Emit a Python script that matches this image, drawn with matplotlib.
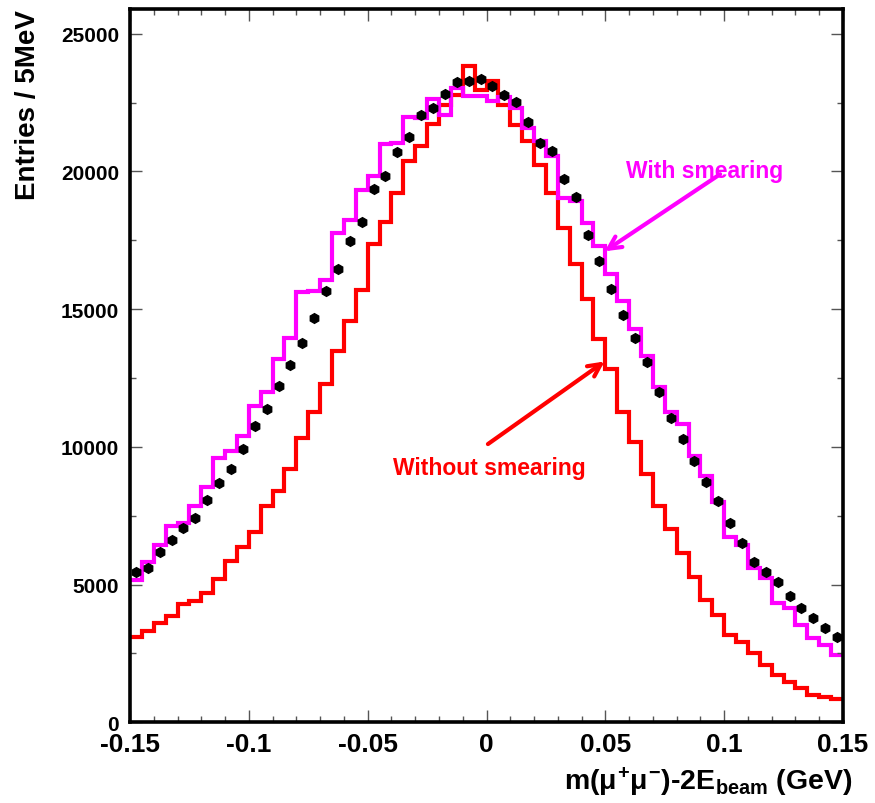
import numpy as np
import matplotlib
matplotlib.use('Agg')
import matplotlib.pyplot as plt
from matplotlib.ticker import MultipleLocator

plt.rcParams['font.family'] = ['Liberation Sans', 'DejaVu Sans']
plt.rcParams['font.weight'] = 'bold'
plt.rcParams['mathtext.fontset'] = 'custom'
plt.rcParams['mathtext.rm'] = 'Liberation Sans:bold'
plt.rcParams['mathtext.it'] = 'Liberation Sans:bold'
plt.rcParams['mathtext.bf'] = 'Liberation Sans:bold'

# 60 bins of 5 MeV between -0.15 and 0.15 GeV
x_lo, x_hi, n_bins = -0.15, 0.15, 60

without_smearing = [
    3100, 3320, 3600, 3860, 4300, 4410, 4700, 5210, 5870, 6380,
    6920, 7840, 8380, 9180, 10310, 11260, 12280, 13480, 14580, 15710,
    17380, 18180, 19200, 20370, 20920, 21720, 22410, 22780, 23830, 22960,
    23290, 22410, 21680, 21100, 20230, 19200, 17930, 16650, 15380, 13920,
    12830, 11260, 10170, 9000, 7840, 7000, 6160, 5280, 4450, 3900,
    3170, 2920, 2510, 2080, 1710, 1460, 1240, 980, 910, 840]

with_smearing = [
    5170, 5830, 6450, 7110, 7220, 7840, 8530, 9580, 9840, 10390,
    11480, 11990, 13190, 13960, 15630, 15650, 16040, 17750, 18220, 19310,
    19820, 20990, 21030, 21980, 21940, 22630, 22050, 23030, 22740, 22740,
    22560, 22700, 22300, 21570, 21100, 20550, 19020, 18910, 18110, 17310,
    16290, 15310, 14290, 13300, 12170, 11260, 10820, 9660, 8930, 7980,
    6740, 6450, 5610, 5250, 4340, 4150, 3530, 3060, 2810, 2440]

data = [
    5470, 5610, 6190, 6600, 7070, 7430, 8070, 8670, 9180, 9910,
    10750, 11370, 12210, 12970, 13780, 14690, 15670, 16450, 17460, 18150,
    19350, 19820, 20700, 21250, 22050, 22300, 22810, 23250, 23290, 23360,
    23100, 22780, 22520, 21810, 21030, 20740, 19720, 19060, 17710, 16730,
    15740, 14800, 13960, 13080, 11990, 11040, 10280, 9480, 8710, 8020,
    7220, 6520, 5830, 5470, 5100, 4590, 4150, 3790, 3430, 3100]

edges = np.linspace(x_lo, x_hi, n_bins + 1)
centers = 0.5 * (edges[:-1] + edges[1:])

fig = plt.figure(figsize=(8.75, 8.04), dpi=100)
ax = fig.add_axes([0.1486, 0.1005, 0.8148, 0.8871])

ax.stairs(without_smearing, edges, color='#ff0000', lw=3.0, baseline=None)
ax.stairs(with_smearing, edges, color='#ff00ff', lw=3.0, baseline=None)
ax.plot(centers, data, 'h', color='black', ms=7, zorder=3)

ax.set_xlim(x_lo, x_hi)
ax.set_ylim(0, 25900)

ax.xaxis.set_minor_locator(MultipleLocator(0.01))
ax.yaxis.set_major_locator(MultipleLocator(5000))
ax.yaxis.set_minor_locator(MultipleLocator(2500))
ax.set_xticks([-0.15, -0.1, -0.05, 0, 0.05, 0.1, 0.15])
ax.set_xticklabels(['-0.15', '-0.1', '-0.05', '0', '0.05', '0.1', '0.15'])

ax.tick_params(which='both', direction='in', top=True, right=True,
               width=1, color='#555555')
ax.tick_params(which='major', length=8.5)
ax.tick_params(which='minor', length=4.5)
ax.tick_params(axis='x', pad=7, labelsize=19)
ax.tick_params(axis='y', pad=8, labelsize=15)
for lab in ax.get_xticklabels() + ax.get_yticklabels():
    lab.set_fontweight('bold')

for sp in ax.spines.values():
    sp.set_linewidth(2.6)

ax.set_xlabel(r'm($\mu^{+}\mu^{-}$)-2E$_{\rm beam}$ (GeV)', fontsize=20.5,
              fontweight='bold', ha='right')
ax.xaxis.set_label_coords(1.013, -0.06)
ax.set_ylabel('Entries / 5MeV', fontsize=20, fontweight='bold', ha='right')
ax.yaxis.set_label_coords(-0.125, 1.0)

ax.annotate('', xy=(0.0497, 17100), xytext=(0.0983, 19900),
            arrowprops=dict(arrowstyle='->,head_length=0.9,head_width=0.45',
                            color='#ff00ff', lw=3.0, shrinkA=0, shrinkB=0))
ax.text(0.0588, 20050, 'With smearing', color='#ff00ff', fontsize=16.5,
        fontweight='bold', va='center', ha='left')

ax.annotate('', xy=(0.0497, 13100), xytext=(0.0006, 10100),
            arrowprops=dict(arrowstyle='->,head_length=0.9,head_width=0.45',
                            color='#ff0000', lw=3.0, shrinkA=0, shrinkB=0))
ax.text(-0.0395, 9250, 'Without smearing', color='#ff0000', fontsize=16.5,
        fontweight='bold', va='center', ha='left')

fig.savefig('out.png', dpi=100)
